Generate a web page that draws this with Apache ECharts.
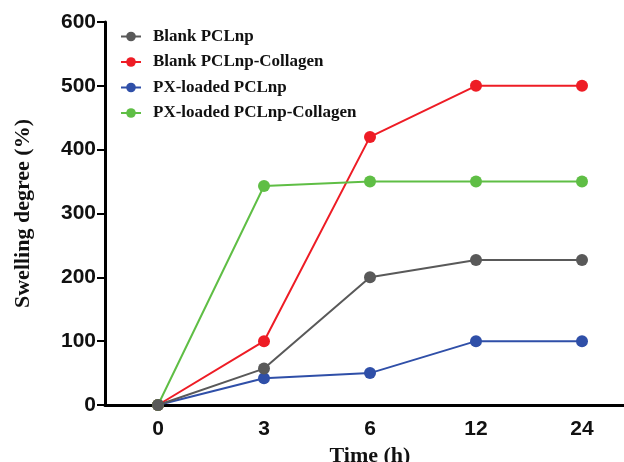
<!DOCTYPE html>
<html>
<head>
<meta charset="utf-8">
<script src="https://cdn.jsdelivr.net/npm/echarts@6/dist/echarts.min.js"></script>
<style>
  html, body { margin: 0; padding: 0; background: #fff; }
  #chart { width: 624px; height: 462px; }
</style>
</head>
<body>
<div id="chart"></div>
<script>
const times = ['0', '3', '6', '12', '24'];
const blankPCL = [0, 57, 200, 227, 227];
const blankPCLCollagen = [0, 100, 420, 500, 500];
const pxPCL = [0, 42, 50, 100, 100];
const pxPCLCollagen = [0, 343, 350, 350, 350];

const chart = echarts.init(document.getElementById('chart'));

const serif = '"Liberation Serif", "Times New Roman", serif';
const sans = '"Liberation Sans", Arial, sans-serif';

function line(name, data, color, z) {
    return {
        name: name,
        type: 'line',
        data: data,
        symbol: 'circle',
        symbolSize: 12,
        z: z,
        itemStyle: { color: color },
        lineStyle: { color: color, width: 2 },
    };
}

chart.setOption({
    backgroundColor: '#fff',
    animation: false,
    grid: { left: 105, top: 22, width: 530, height: 383, outerBoundsMode: 'none' },
    legend: {
        orient: 'vertical',
        left: 115,
        top: 23,
        itemGap: 8.5,
        itemWidth: 20,
        itemHeight: 12,
        textStyle: { fontFamily: serif, fontWeight: 'bold', fontSize: 17, color: '#111', padding: [0, 0, 0, 7] },
        data: ['Blank PCLnp', 'Blank PCLnp-Collagen', 'PX-loaded PCLnp', 'PX-loaded PCLnp-Collagen'],
    },
    xAxis: {
        type: 'category',
        data: times,
        boundaryGap: true,
        name: 'Time (h)',
        nameLocation: 'middle',
        nameGap: 36,
        nameTextStyle: { fontFamily: serif, fontWeight: 'bold', fontSize: 22, color: '#111' },
        axisLine: { lineStyle: { color: '#000', width: 3 } },
        axisTick: { alignWithLabel: true, length: 8, lineStyle: { color: '#000', width: 2 } },
        axisLabel: { fontFamily: sans, fontWeight: 'bold', fontSize: 21, color: '#111', margin: 14 },
    },
    yAxis: {
        type: 'value',
        min: 0,
        max: 600,
        interval: 100,
        name: 'Swelling degree (%)',
        nameLocation: 'middle',
        nameGap: 71,
        nameTextStyle: { fontFamily: serif, fontWeight: 'bold', fontSize: 22, color: '#111' },
        axisLine: { show: true, lineStyle: { color: '#000', width: 3 } },
        axisTick: { show: true, length: 8, lineStyle: { color: '#000', width: 2 } },
        axisLabel: { fontFamily: sans, fontWeight: 'bold', fontSize: 21, color: '#111', margin: 9 },
        splitLine: { show: false },
    },
    series: [
        line('Blank PCLnp', blankPCL, '#595959', 5),
        line('Blank PCLnp-Collagen', blankPCLCollagen, '#ee1c25', 3),
        line('PX-loaded PCLnp', pxPCL, '#2f4fa8', 2),
        line('PX-loaded PCLnp-Collagen', pxPCLCollagen, '#5fbe45', 4),
    ],
});
</script>
</body>
</html>
